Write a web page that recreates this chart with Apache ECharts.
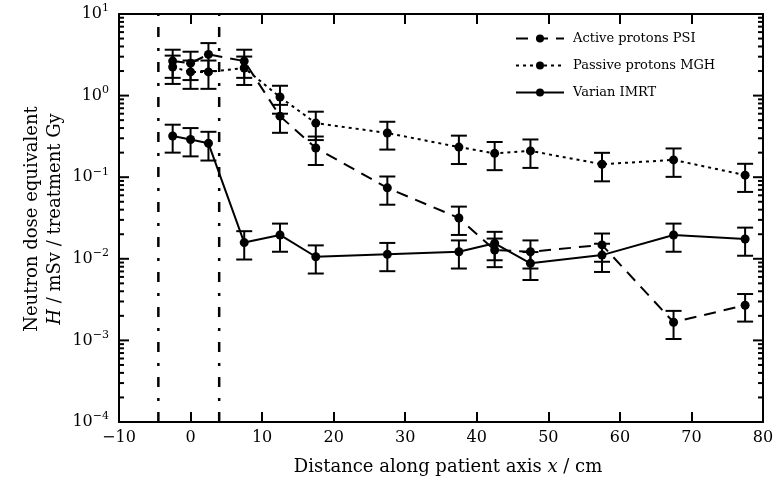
<!DOCTYPE html>
<html><head><meta charset="utf-8">
<script src="https://cdn.jsdelivr.net/npm/echarts@6/dist/echarts.min.js"></script>
<style>html,body{margin:0;padding:0;background:#fff}#c{width:777px;height:483px}</style>
</head><body><div id="c"></div>
<script>
// ---- data ----
const xPos = [-2.5, 0, 2.5, 7.5, 12.5, 17.5, 27.5, 37.5, 42.5, 47.5, 57.5, 67.5, 77.5];
const seriesNames = ['Active protons PSI', 'Passive protons MGH', 'Varian IMRT'];
const activePSI  = [2.65, 2.5, 3.2, 2.65, 0.56, 0.228, 0.074, 0.0316, 0.0128, 0.0122, 0.0148, 0.00167, 0.0027];
const activeErr  = [1.0, 0.95, 1.2, 1.0, 0.21, 0.087, 0.028, 0.012, 0.0049, 0.0046, 0.0056, 0.00063, 0.001];
const passiveMGH = [2.24, 1.95, 1.95, 2.18, 0.96, 0.46, 0.348, 0.234, 0.196, 0.21, 0.144, 0.163, 0.106];
const passiveErr = [0.85, 0.74, 0.74, 0.83, 0.36, 0.175, 0.13, 0.089, 0.074, 0.08, 0.055, 0.062, 0.04];
const varianIMRT = [0.32, 0.29, 0.26, 0.0158, 0.0196, 0.0106, 0.01135, 0.0122, 0.0155, 0.0088, 0.0111, 0.0196, 0.0175];
const varianErr  = [0.12, 0.11, 0.1, 0.006, 0.0074, 0.004, 0.0043, 0.0046, 0.0059, 0.0033, 0.0042, 0.0074, 0.0066];
const boundaryX = [-4.5, 4];
const xTicks = [-10, 0, 10, 20, 30, 40, 50, 60, 70, 80];
const yMin = 1e-4, yMax = 10;
const expMin = -4, expMax = 1;

const FONT = 'DejaVu Serif';
const chart = echarts.init(document.getElementById('c'), null, {renderer: 'canvas'});

function pairs(xs, ys) { return xs.map((x, i) => [x, ys[i]]); }
function errData(xs, ys, es) { return xs.map((x, i) => [x, ys[i] - es[i], ys[i] + es[i]]); }

function errItem(params, api) {
  const x = api.value(0), lo = api.value(1), hi = api.value(2);
  const p1 = api.coord([x, hi]), p2 = api.coord([x, lo]);
  const hw = 8;
  const style = {stroke: '#000', lineWidth: 2, fill: null};
  return {type: 'group', children: [
    {type: 'line', shape: {x1: p1[0], y1: p1[1], x2: p2[0], y2: p2[1]}, style},
    {type: 'line', shape: {x1: p1[0] - hw, y1: p1[1], x2: p1[0] + hw, y2: p1[1]}, style},
    {type: 'line', shape: {x1: p2[0] - hw, y1: p2[1], x2: p2[0] + hw, y2: p2[1]}, style}
  ]};
}

// log ticks on both vertical frame edges (axis decoration), placed on a hidden
// linear exponent axis: major at 10^k, minor at m*10^k
const tickVals = [];
for (let k = expMin; k <= expMax; k++) {
  tickVals.push([0, k, 1]);
  if (k < expMax) for (let m = 2; m <= 9; m++) tickVals.push([0, k + Math.log10(m), 0]);
}
function tickItem(params, api) {
  const v = api.value(1), major = api.value(2) === 1;
  const len = major ? 10 : 5;
  const pl = api.coord([xTicks[0], v]), pr = api.coord([xTicks[xTicks.length - 1], v]);
  const style = {stroke: '#000', lineWidth: 2, fill: null};
  return {type: 'group', children: [
    {type: 'line', shape: {x1: pl[0], y1: pl[1], x2: pl[0] + len, y2: pl[1]}, style},
    {type: 'line', shape: {x1: pr[0] - len, y1: pr[1], x2: pr[0], y2: pr[1]}, style}
  ]};
}

const lineStyles = [[12, 8], [3, 4], 'solid'];
const values = [activePSI, passiveMGH, varianIMRT];
const errs = [activeErr, passiveErr, varianErr];

const series = [];
seriesNames.forEach((name, i) => {
  series.push({
    name, type: 'line', data: pairs(xPos, values[i]),
    symbol: 'circle', symbolSize: 9, z: 5,
    itemStyle: {color: '#000'},
    lineStyle: {color: '#000', width: 2, type: lineStyles[i]},
    emphasis: {disabled: true}, animation: false
  });
  series.push({
    type: 'custom', renderItem: errItem, data: errData(xPos, values[i], errs[i]),
    encode: {x: 0, y: [1, 2]}, z: 4, silent: true, animation: false
  });
});
boundaryX.forEach(bx => {
  series.push({
    type: 'line', data: [[bx, yMin], [bx, yMax]], symbol: 'none', silent: true,
    lineStyle: {color: '#000', width: 2.5, type: [10, 11, 3, 11]}, z: 3, animation: false
  });
});
series.push({type: 'custom', renderItem: tickItem, data: tickVals, encode: {x: 0, y: 1},
  yAxisIndex: 2, silent: true, z: 10, animation: false, clip: false});

function yLab(v) {
  const e = Math.round(Math.log10(v));
  const s = (e < 0 ? '−' : '') + Math.abs(e);
  return '{b|10}{s|' + s + '}';
}

chart.setOption({
  animation: false,
  grid: {left: 119, right: 14, top: 14, bottom: 61},
  legend: {
    data: seriesNames, orient: 'vertical', left: 510, top: 27,
    itemWidth: 48, itemHeight: 10, itemGap: 14,
    textStyle: {fontFamily: FONT, fontSize: 13, color: '#000', padding: [0, 0, 0, 4]},
    selectedMode: false
  },
  xAxis: [{
    type: 'value', min: -10, max: 80, interval: 10,
    axisLine: {onZero: false, lineStyle: {color: '#000', width: 2}},
    axisTick: {inside: true, length: 10, lineStyle: {color: '#000', width: 2}},
    splitLine: {show: false},
    axisLabel: {margin: 8, fontFamily: FONT, fontSize: 16, color: '#000',
      formatter: v => v < 0 ? '−' + Math.abs(v) : String(v)}
  }, {
    type: 'value', position: 'top', min: -10, max: 80, interval: 10,
    axisLine: {onZero: false, lineStyle: {color: '#000', width: 2}},
    axisTick: {inside: true, length: 10, lineStyle: {color: '#000', width: 2}},
    axisLabel: {show: false}, splitLine: {show: false}
  }],
  yAxis: [{
    type: 'log', logBase: 10, min: yMin, max: yMax,
    axisLine: {show: true, onZero: false, lineStyle: {color: '#000', width: 2}},
    axisTick: {show: false},
    splitLine: {show: false},
    axisLabel: {margin: 10, formatter: yLab, color: '#000',
      rich: {
        b: {fontFamily: FONT, fontSize: 16, color: '#000'},
        s: {fontFamily: FONT, fontSize: 11, color: '#000', verticalAlign: 'top', padding: [0, 0, 11, 0]}
      }}
  }, {
    type: 'log', logBase: 10, min: yMin, max: yMax, position: 'right',
    axisLine: {show: true, onZero: false, lineStyle: {color: '#000', width: 2}},
    axisTick: {show: false},
    axisLabel: {show: false}, splitLine: {show: false}
  }, {
    type: 'value', min: expMin, max: expMax, show: false,
    axisLine: {show: false, onZero: false}, splitLine: {show: false}
  }],
  graphic: [
    {type: 'text', x: 448, y: 467, style: {
      text: '{r|Distance along patient axis }{i|x}{r| / cm}',
      rich: {r: {fontFamily: FONT, fontSize: 18, fill: '#000'}, i: {fontFamily: FONT, fontSize: 18, fontStyle: 'italic', fill: '#000'}},
      align: 'center', verticalAlign: 'middle'}},
    {type: 'text', x: 32, y: 219, rotation: Math.PI / 2, style: {
      text: 'Neutron dose equivalent', fontFamily: FONT, fontSize: 18, fill: '#000',
      align: 'center', verticalAlign: 'middle'}},
    {type: 'text', x: 55, y: 219, rotation: Math.PI / 2, style: {
      text: '{i|H}{r| / mSv / treatment Gy}',
      rich: {r: {fontFamily: FONT, fontSize: 18, fill: '#000'}, i: {fontFamily: FONT, fontSize: 18, fontStyle: 'italic', fill: '#000'}},
      align: 'center', verticalAlign: 'middle'}}
  ],
  series
});
</script></body></html>
